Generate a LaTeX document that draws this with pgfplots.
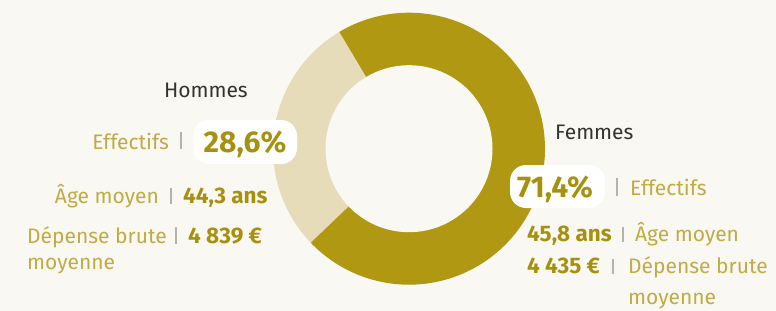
\documentclass[border=0pt]{standalone}
\usepackage{fontspec}
\setmainfont{Fira Sans}
\usepackage{pgfplots}
\pgfplotsset{compat=1.18}
\usepackage{pgfplotstable}
\definecolor{bgc}{HTML}{F9F8F3}
\definecolor{fem}{HTML}{B09812}
\definecolor{hom}{HTML}{E6DCBA}
\definecolor{lab}{HTML}{C0AB45}
\definecolor{val}{HTML}{A8900F}
\definecolor{sep}{HTML}{B5B3AE}
\definecolor{nam}{HTML}{333333}

\pgfplotstableread{
groupe part
Hommes 28.6
Femmes 71.4
}\parts

\newcommand{\lbl}{\fontsize{21bp}{24bp}\selectfont}
\newcommand{\vl}{\fontsize{22.5bp}{26bp}\selectfont\bfseries}
\newcommand{\pc}{\fontsize{30bp}{34bp}\selectfont\bfseries}

\begin{document}
\begin{tikzpicture}
\pgfplotstablegetelem{0}{part}\of\parts \let\ph\pgfplotsretval
\pgfplotstablegetelem{1}{part}\of\parts \let\pf\pgfplotsretval
\pgfmathsetmacro{\astart}{120.8}
\pgfmathsetmacro{\amid}{\astart+3.6*\ph}
\pgfmathsetmacro{\aend}{\amid+3.6*\pf}
\def\cx{409}\def\cy{148.7}\def\R{136}\def\r{83.5}
\begin{axis}[width=776bp,height=311bp,scale only axis,
  xmin=0,xmax=776,ymin=0,ymax=311,y dir=reverse,hide axis,clip=false]
\fill[bgc] (axis cs:0,0) rectangle (axis cs:776,311);
\addplot[draw=none,fill=hom,domain=\astart:\amid,samples=80]
  ({\cx+\R*cos(x)},{\cy-\R*sin(x)}) -- (axis cs:\cx,\cy) -- cycle;
\addplot[draw=none,fill=fem,domain=\amid:\aend,samples=160]
  ({\cx+\R*cos(x)},{\cy-\R*sin(x)}) -- (axis cs:\cx,\cy) -- cycle;
\addplot[draw=none,fill=bgc,domain=0:360,samples=160]
  ({\cx+\r*cos(x)},{\cy-\r*sin(x)}) -- cycle;

% left side
\node[anchor=base east,text=nam,inner sep=0] at (axis cs:248,97) {\lbl Hommes};
\node[anchor=base east,text=lab,inner sep=0] at (axis cs:169,149) {\lbl Effectifs};
\draw[sep,line width=1.2bp] (axis cs:181,132) -- (axis cs:181,149);
\node[fill=white,rounded corners=16bp,minimum width=104bp,minimum height=44bp,inner sep=0] at (axis cs:245,142) {};
\node[anchor=base,text=val,inner sep=0] at (axis cs:245,152) {\pc 28,6\%};
\node[anchor=base east,text=lab,inner sep=0] at (axis cs:159,203) {\lbl Âge moyen};
\draw[sep,line width=1.2bp] (axis cs:171,188) -- (axis cs:171,204);
\node[anchor=base west,text=val,inner sep=0] at (axis cs:183,203) {\vl 44,3 ans};
\node[anchor=base west,text=lab,inner sep=0] at (axis cs:27,243) {\lbl Dépense brute};
\node[anchor=base west,text=lab,inner sep=0] at (axis cs:27,269) {\lbl moyenne};
\draw[sep,line width=1.2bp] (axis cs:176,227) -- (axis cs:176,244);
\node[anchor=base west,text=val,inner sep=0] at (axis cs:188,243) {\vl 4 839 €};

% right side
\node[anchor=base west,text=nam,inner sep=0] at (axis cs:555,139) {\lbl Femmes};
\node[fill=white,rounded corners=16bp,minimum width=95bp,minimum height=43bp,inner sep=0] at (axis cs:557.5,186.5) {};
\node[anchor=base,text=val,inner sep=0] at (axis cs:555,197) {\pc 71,4\%};
\draw[sep,line width=1.2bp] (axis cs:617,178) -- (axis cs:617,196);
\node[anchor=base west,text=lab,inner sep=0] at (axis cs:630,195) {\lbl Effectifs};
\node[anchor=base west,text=val,inner sep=0] at (axis cs:527,241) {\vl 45,8 ans};
\draw[sep,line width=1.2bp] (axis cs:623,227) -- (axis cs:623,242);
\node[anchor=base west,text=lab,inner sep=0] at (axis cs:635,241) {\lbl Âge moyen};
\node[anchor=base west,text=val,inner sep=0] at (axis cs:527,273) {\vl 4 435 €};
\draw[sep,line width=1.2bp] (axis cs:613,259) -- (axis cs:613,274);
\node[anchor=base west,text=lab,inner sep=0] at (axis cs:628,273) {\lbl Dépense brute};
\node[anchor=base west,text=lab,inner sep=0] at (axis cs:628,304) {\lbl moyenne};
\end{axis}
\end{tikzpicture}
\end{document}
